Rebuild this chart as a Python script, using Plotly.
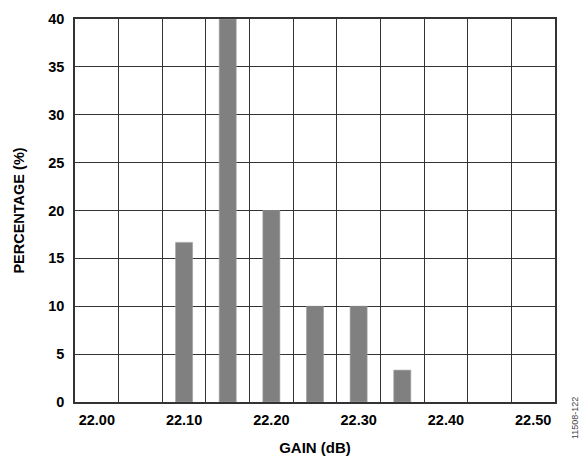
import plotly.graph_objects as go

# Gain distribution (dB) and share of units (%)
gain_db = [22.10, 22.15, 22.20, 22.25, 22.30, 22.35]
percentage = [16.67, 40.0, 20.0, 10.0, 10.0, 3.33]

x_tick_vals = [22.00, 22.10, 22.20, 22.30, 22.40, 22.50]
x_tick_text = ["22.00", "22.10", "22.20", "22.30", "22.40", "22.50"]
y_tick_vals = [0, 5, 10, 15, 20, 25, 30, 35, 40]

FONT = "Liberation Sans, Arial, Helvetica, sans-serif"
GRID = "#333333"

fig = go.Figure(
    go.Bar(
        x=gain_db,
        y=percentage,
        width=0.0195,
        marker=dict(color="#808080", line=dict(color="#a0a0a0", width=0.6)),
    )
)

fig.update_layout(
    width=586,
    height=457,
    margin=dict(l=75, r=31, t=19, b=55),
    paper_bgcolor="white",
    plot_bgcolor="white",
    showlegend=False,
    font=dict(family=FONT, color="black"),
    annotations=[
        dict(
            text="11508-122",
            xref="paper", yref="paper",
            x=(575 - 75) / 480, y=(402 - 418) / 383,
            xanchor="center", yanchor="middle",
            showarrow=False, textangle=-90,
            font=dict(size=9, color="#444444", family=FONT),
        )
    ],
)

fig.update_xaxes(
    range=[21.975, 22.525],
    tickvals=x_tick_vals,
    ticktext=x_tick_text,
    tickfont=dict(size=14.5, family=FONT, weight="bold"),
    ticks="",
    ticklabelstandoff=4,
    automargin=False,
    showgrid=False,
    zeroline=False,
    showline=True,
    mirror=True,
    linecolor=GRID,
    linewidth=1.6,
    minor=dict(tick0=22.025, dtick=0.05, showgrid=True,
               gridcolor=GRID, gridwidth=1.4, ticks=""),
    title=dict(text="GAIN (dB)", font=dict(size=15, family=FONT, weight="bold"),
               standoff=15),
)
fig.update_yaxes(
    range=[0, 40],
    tickvals=y_tick_vals,
    tickfont=dict(size=14.5, family=FONT, weight="bold"),
    ticks="",
    ticklabelstandoff=6,
    automargin=False,
    showgrid=True,
    gridcolor=GRID,
    gridwidth=1.4,
    zeroline=False,
    showline=True,
    mirror=True,
    linecolor=GRID,
    linewidth=1.6,
    title=dict(text="PERCENTAGE (%)", font=dict(size=14.5, family=FONT, weight="bold"),
               standoff=20),
)

fig.write_html("out.html")
